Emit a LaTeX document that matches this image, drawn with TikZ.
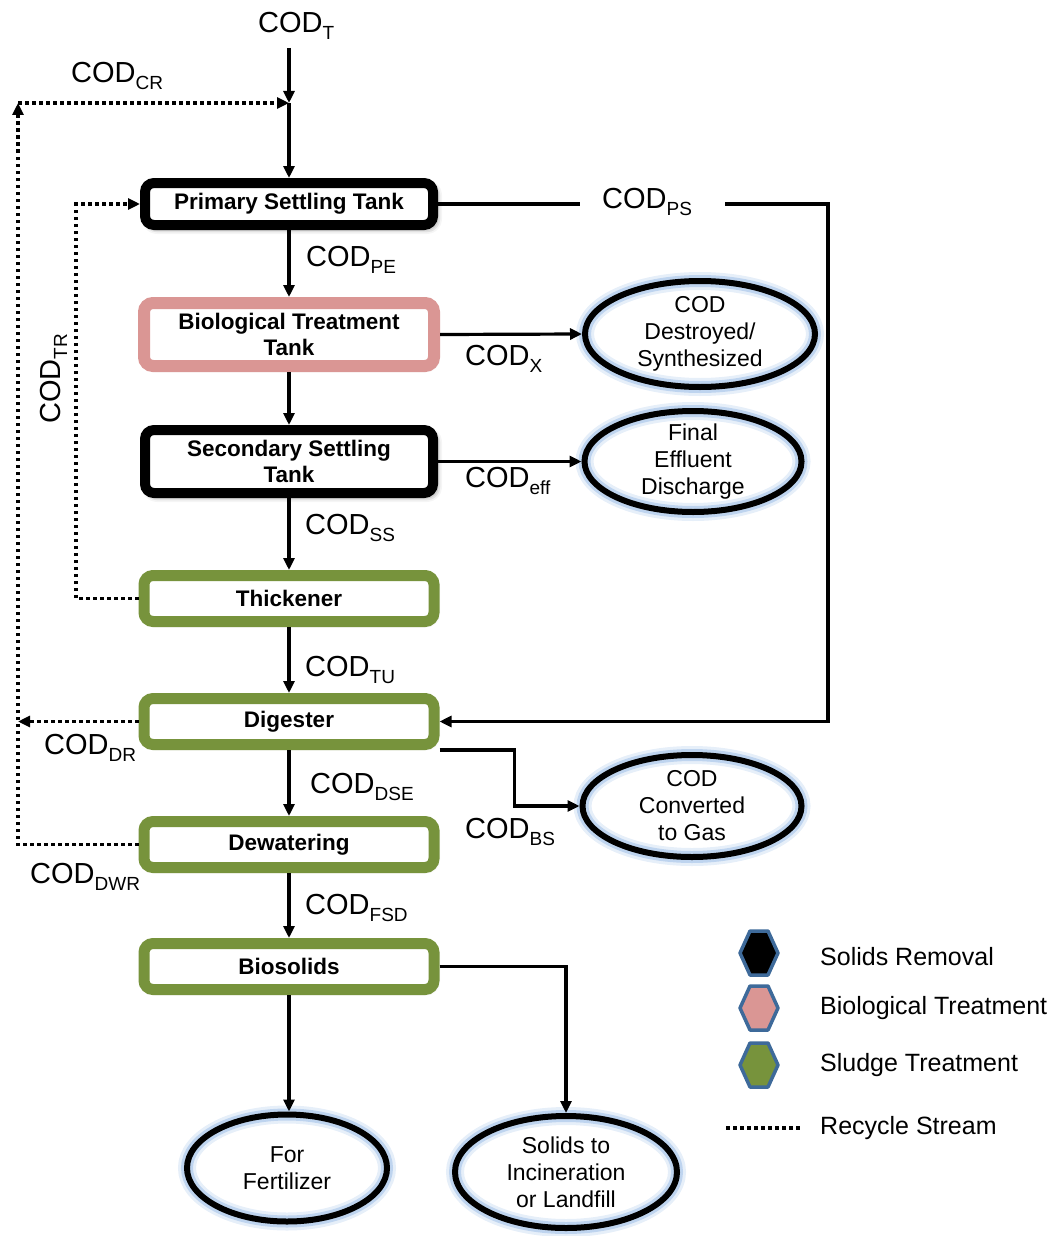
\documentclass[tikz,border=0pt]{standalone}
\usepackage{fontspec}
\setmainfont{Liberation Sans}
\usetikzlibrary{arrows.meta,shapes.geometric,shadows.blur}

\definecolor{pinkbox}{HTML}{DA9694}
\definecolor{greenbox}{HTML}{77933C}
\definecolor{hexblue}{HTML}{3E6A9A}
\definecolor{glowblue}{HTML}{8EB4E3}

% COD with a lowered subscript
\newcommand{\codsub}[1]{COD\raisebox{-7pt}{\fontsize{19}{19}\selectfont #1}}

\begin{document}
\begin{tikzpicture}[x=1pt,y=-1pt,
  every node/.style={inner sep=0pt},
  unit/.style={draw, rounded corners=9pt, fill=white, minimum width=290pt,
    align=center, font=\fontsize{22.5}{26}\selectfont\bfseries},
  solids/.style={unit, line width=10pt,
    blur shadow={shadow xshift=3pt, shadow yshift=-3pt, shadow blur radius=6pt, shadow opacity=60}},
  biotank/.style={unit, draw=pinkbox, line width=12pt,
    blur shadow={shadow xshift=2pt, shadow yshift=-2pt, shadow blur radius=4pt, shadow opacity=25}},
  sludge/.style={unit, draw=greenbox, line width=11pt,
    blur shadow={shadow xshift=2pt, shadow yshift=-2pt, shadow blur radius=4pt, shadow opacity=25}},
  outlet/.style={ellipse, line width=6pt,
    preaction={draw=glowblue, line width=18pt, opacity=0.22},
    preaction={draw=glowblue, line width=12pt, opacity=0.45},
    draw=black},
  outtxt/.style={font=\fontsize{23}{27}\selectfont, align=center},
  flow/.style={line width=3.2pt, -{Triangle[length=12pt,width=11pt]}},
  link/.style={line width=3.2pt},
  recycle/.style={line width=3.5pt, dash pattern=on 3.5pt off 3.5pt},
  rflow/.style={recycle, -{Triangle[length=12pt,width=11pt]}},
  lbl/.style={anchor=base west, font=\fontsize{29}{29}\selectfont},
  legtxt/.style={anchor=west, font=\fontsize{25}{25}\selectfont},
  hexa/.style={draw=hexblue, line width=3.5pt, line join=round}
]
\useasboundingbox (0,0) rectangle (1057,1236);

% process units
\node[solids,  minimum width=288pt, minimum height=42pt] (pst) at (289,204)   {Primary Settling Tank};
\node[biotank, minimum height=63pt] (bio)   at (289,334.5) {Biological Treatment\\Tank};
\node[solids,  minimum width=288pt, minimum height=63pt] (sst) at (289,461.5) {Secondary Settling\\Tank};
\node[sludge,  minimum height=46pt] (thk)   at (289,598.5) {Thickener};
\node[sludge,  minimum height=46pt] (dig)   at (289,721.5) {Digester};
\node[sludge,  minimum height=46pt] (dew)   at (289,844.5) {Dewatering};
\node[sludge,  minimum height=46pt] (bios)  at (289,966.5) {Biosolids};

% end points
\node[outlet, minimum width=230pt, minimum height=106pt,
  label={[outtxt]center:{COD\\Destroyed/\\Synthesized}}] (e1) at (700,334) {};
\node[outlet, minimum width=217pt, minimum height=101pt,
  label={[outtxt]center:{Final\\Effluent\\Discharge}}] (e2) at (693,461.5) {};
\node[outlet, minimum width=219pt, minimum height=102pt,
  label={[outtxt]center:{COD\\Converted\\to Gas}}] (e3) at (692,806) {};
\node[outlet, minimum width=200pt, minimum height=107pt,
  label={[outtxt]center:{For\\Fertilizer}}] (e4) at (287,1168) {};
\node[outlet, minimum width=222pt, minimum height=112pt,
  label={[outtxt]center:{Solids to\\Incineration\\or Landfill}}] (e5) at (566,1172) {};

% stream labels
\node[lbl] (cT)   at (258,33)  {\codsub{T}};
\node[lbl] (cCR)  at (71,83)   {\codsub{CR}};
\node[lbl] (cPS)  at (602,208) {\codsub{PS}};
\node[lbl] (cPE)  at (306,266) {\codsub{PE}};
\node[lbl] (cX)   at (465,365) {\codsub{X}};
\node[lbl] (cEff) at (465,487) {\codsub{eff}};
\node[lbl] (cSS)  at (305,534) {\codsub{SS}};
\node[lbl, rotate=90] (cTR) at (60,424) {\codsub{TR}};
\node[lbl] (cTU)  at (305,676) {\codsub{TU}};
\node[lbl] (cDR)  at (44,754)  {\codsub{DR}};
\node[lbl] (cDSE) at (310,793) {\codsub{DSE}};
\node[lbl] (cBS)  at (465,838) {\codsub{BS}};
\node[lbl] (cDWR) at (30,883)  {\codsub{DWR}};
\node[lbl] (cFSD) at (305,914) {\codsub{FSD}};

% junctions and bends
\coordinate (in)  at (289,48);
\coordinate (j)   at (289,103);
\coordinate (rc)  at (18,103);
\coordinate (rl)  at (18,721.5);
\coordinate (tr)  at (76,400);
\coordinate (psL) at (580,204);
\coordinate (psR) at (725,204);
\coordinate (psC) at (828,460);

% main line
\draw[flow] (in) -- (j);
\draw[flow] (j) -- (pst.north);
\draw[flow] (pst.south) -- (bio.north);
\draw[flow] (bio.south) -- (sst.north);
\draw[flow] (sst.south) -- (thk.north);
\draw[flow] (thk.south) -- (dig.north);
\draw[flow] (dig.south) -- (dew.north);
\draw[flow] (dew.south) -- (bios.north);
\draw[flow] (bios.south) -- (bios.south |- e4.north);
\draw[flow] (bios.east) -| (e5.north);

% side streams
\draw[flow] (bio.east) -- (e1.west);
\draw[flow] (sst.east) -- (e2.west);
\draw[flow] (dig.south east) -- ++(75,0) |- (e3.west);
\draw[link] (pst.east) -- (psL);
\draw[flow] (psR) -| (psC) |- (dig.east);

% recycle streams
\draw[rflow] (thk.west) -| (tr) |- (pst.west);
\draw[rflow] (dig.west) -- (rl);
\draw[rflow] (dew.west) -| (rc);
\draw[rflow] (rc) -- (j);

% legend
\foreach \y/\c in {953/black, 1008/pinkbox, 1065/greenbox}
  \draw[hexa, fill=\c] (740,\y) -- (750,\y-22) -- (768,\y-22) -- (778,\y)
    -- (768,\y+22) -- (750,\y+22) -- cycle;
\node[legtxt] (lg1) at (820,957)  {Solids Removal};
\node[legtxt] (lg2) at (820,1008) {Biological Treatment};
\node[legtxt] (lg3) at (820,1065) {Sludge Treatment};
\node[legtxt] (lg4) at (820,1128) {Recycle Stream};
\coordinate (lgA) at (726,1128);
\coordinate (lgB) at (800,1128);
\draw[recycle] (lgA) -- (lgB);
\end{tikzpicture}
\end{document}
